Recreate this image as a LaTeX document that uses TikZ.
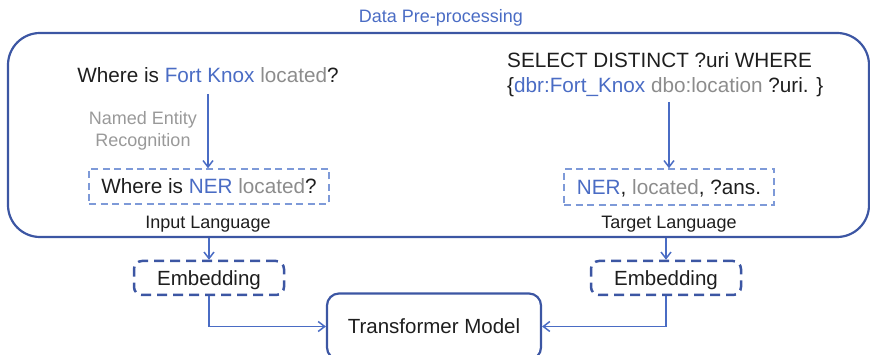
\documentclass[tikz,border=0pt]{standalone}
\usepackage{fontspec}
\setmainfont{Liberation Sans}
\usetikzlibrary{arrows.meta}
\definecolor{tblue}{HTML}{4A6CC4}
\definecolor{dblue}{HTML}{3C56A3}
\definecolor{lblue}{HTML}{7E9AD8}
\definecolor{tgray}{HTML}{8C8C8C}
\definecolor{lgray}{HTML}{999999}
\definecolor{tblack}{HTML}{1E1E1E}
\tikzset{
  bigtxt/.style={inner sep=0pt, text=tblack, font=\fontsize{20.7}{25}\selectfont},
  smalltxt/.style={inner sep=0pt, text=tblack, font=\fontsize{18}{21.5}\selectfont},
  outerbox/.style={draw=dblue, line width=2.2pt, rounded corners=32pt, inner sep=0pt},
  langbox/.style={draw=lblue, line width=1.5pt, dash pattern=on 7pt off 4.5pt, inner sep=0pt,
    text height=15pt, text depth=0pt, text=tblack, font=\fontsize{20.7}{25}\selectfont},
  embbox/.style={draw=dblue, line width=2.5pt, dash pattern=on 10pt off 6pt, rounded corners=8pt,
    inner sep=0pt, minimum width=150pt, minimum height=34pt, text height=15pt, text depth=0pt,
    text=tblack, font=\fontsize{20.5}{25}\selectfont},
  modelbox/.style={draw=dblue, line width=2.2pt, rounded corners=12pt, inner sep=0pt,
    minimum width=214pt, minimum height=66pt, text=tblack, font=\fontsize{20.5}{25}\selectfont},
  flow/.style={draw=tblue, line width=1.5pt, -{Straight Barb[length=6.5pt,width=10pt]}},
}
\begin{document}
\begin{tikzpicture}[x=1pt,y=-1pt]
\useasboundingbox (0,0) rectangle (870,355);
% data pre-processing frame
\node[outerbox, minimum width=861pt, minimum height=204pt] (pre) at (438.5,135) {};
\node[smalltxt, text=tblue, anchor=base] (title) at (441,23) {Data Pre-processing};
% input side
\node[bigtxt, anchor=base] (q) at (208,83)
  {Where is \textcolor{tblue}{Fort Knox} \textcolor{tgray}{located}?};
\node[smalltxt, text=lgray, align=center] (ner) at (143,131) {Named Entity\\Recognition};
\node[langbox, minimum width=240pt, minimum height=35pt] (inlang) at (209,186.5)
  {Where is \textcolor{tblue}{NER} \textcolor{tgray}{located}?};
\node[smalltxt, anchor=base] (inlab) at (208,229) {Input Language};
% target side
\node[bigtxt, align=left, anchor=north west] (sparql) at (507,52)
  {SELECT DISTINCT ?uri WHERE\\
   \{\textcolor{tblue}{dbr:Fort\_Knox} \textcolor{tgray}{dbo:location} ?uri. \}};
\node[langbox, minimum width=210pt, minimum height=36pt] (tglang) at (669,187)
  {\textcolor{tblue}{NER}, \textcolor{tgray}{located}, ?ans.};
\node[smalltxt, anchor=base] (tglab) at (669,229) {Target Language};
% embeddings and model
\node[embbox] (emb1) at (209,278) {Embedding};
\node[embbox] (emb2) at (666,278) {Embedding};
\node[modelbox] (tm) at (434,326.5) {Transformer Model};
% connectors
\coordinate (qa) at (208,94);
\coordinate (sa) at (669,102);
\draw[flow] (qa) -- (inlang.north -| qa);
\draw[flow] (sa) -- (tglang.north -| sa);
\draw[flow] (emb1 |- pre.south) -- (emb1.north);
\draw[flow] (emb2 |- pre.south) -- (emb2.north);
\draw[flow] (emb1.south) |- (tm.west);
\draw[flow] (emb2.south) |- (tm.east);
\end{tikzpicture}
\end{document}
